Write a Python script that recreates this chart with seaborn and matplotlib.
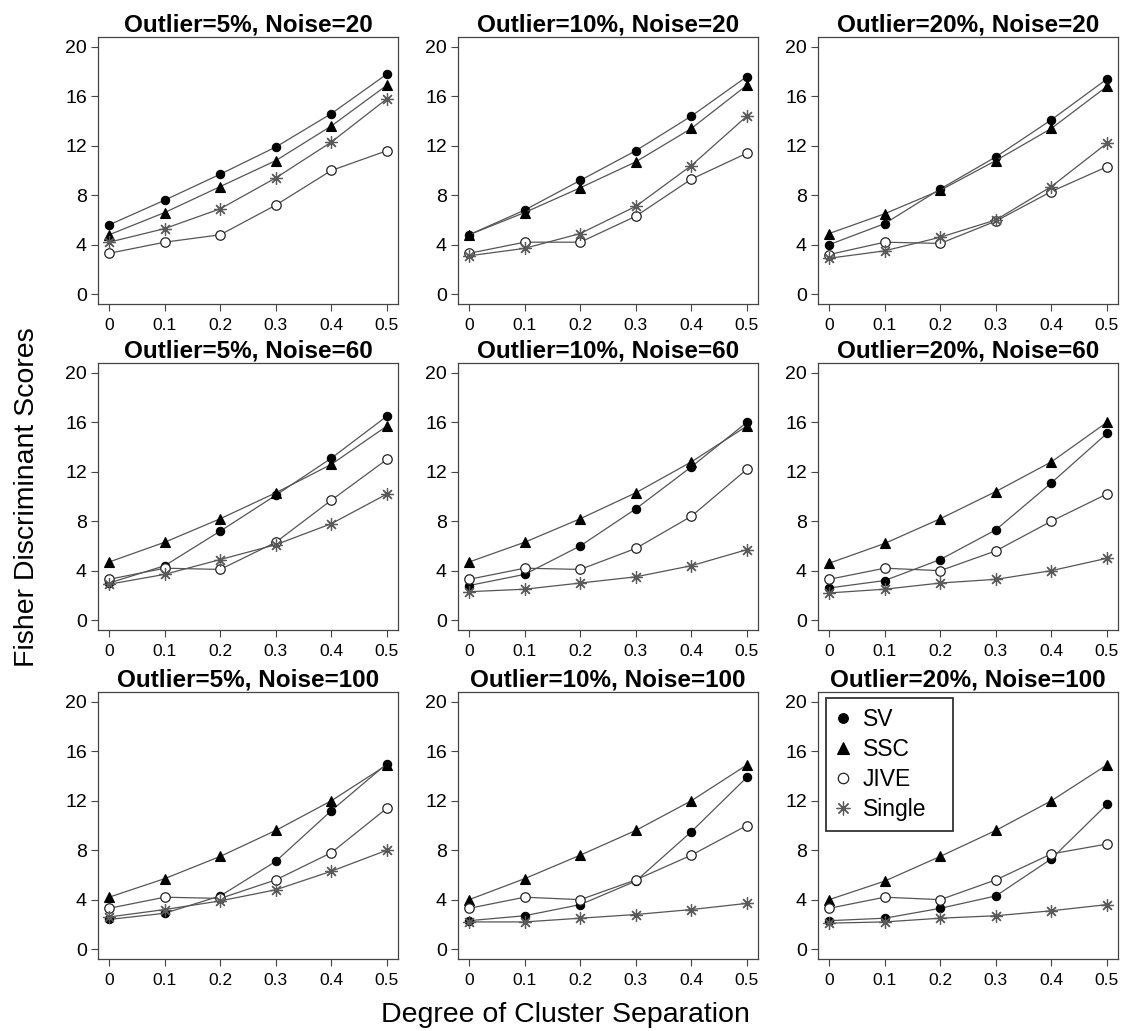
import numpy as np
import pandas as pd
import seaborn as sns
import matplotlib
matplotlib.use("Agg")
import matplotlib.pyplot as plt
from matplotlib.lines import Line2D

separation = [0, 0.1, 0.2, 0.3, 0.4, 0.5]
x_tick_labels = ["0", "0.1", "0.2", "0.3", "0.4", "0.5"]
y_ticks = [0, 4, 8, 12, 16, 20]
outlier_levels = ["5%", "10%", "20%"]
noise_levels = [20, 60, 100]
methods = ["SV", "SSC", "JIVE", "Single"]

# values per noise level: rows = outlier 5%, 10%, 20%
SV_N20 = [[5.6, 7.6, 9.7, 11.9, 14.6, 17.8],
          [4.8, 6.8, 9.2, 11.6, 14.4, 17.6],
          [4.0, 5.7, 8.5, 11.1, 14.1, 17.4]]
SSC_N20 = [[4.8, 6.6, 8.7, 10.8, 13.6, 16.9],
           [4.8, 6.6, 8.6, 10.7, 13.4, 16.9],
           [4.9, 6.5, 8.4, 10.8, 13.4, 16.8]]
JIVE_N20 = [[3.3, 4.2, 4.8, 7.2, 10.0, 11.6],
            [3.3, 4.2, 4.2, 6.3, 9.3, 11.4],
            [3.2, 4.2, 4.1, 5.9, 8.3, 10.3]]
SINGLE_N20 = [[4.2, 5.3, 6.9, 9.4, 12.3, 15.8],
              [3.1, 3.7, 4.9, 7.1, 10.4, 14.4],
              [2.9, 3.5, 4.6, 6.0, 8.7, 12.2]]

SV_N60 = [[3.0, 4.4, 7.2, 10.1, 13.1, 16.5],
          [2.8, 3.7, 6.0, 9.0, 12.4, 16.0],
          [2.6, 3.2, 4.9, 7.3, 11.1, 15.1]]
SSC_N60 = [[4.7, 6.3, 8.2, 10.3, 12.6, 15.7],
           [4.7, 6.3, 8.2, 10.3, 12.8, 15.7],
           [4.6, 6.2, 8.2, 10.4, 12.8, 16.0]]
JIVE_N60 = [[3.3, 4.2, 4.1, 6.3, 9.7, 13.0],
            [3.3, 4.2, 4.1, 5.8, 8.4, 12.2],
            [3.3, 4.2, 4.0, 5.6, 8.0, 10.2]]
SINGLE_N60 = [[2.9, 3.7, 4.9, 6.1, 7.8, 10.2],
              [2.3, 2.5, 3.0, 3.5, 4.4, 5.7],
              [2.2, 2.5, 3.0, 3.3, 4.0, 5.0]]

SV_N100 = [[2.4, 2.9, 4.3, 7.1, 11.2, 15.0],
           [2.3, 2.7, 3.6, 5.5, 9.5, 13.9],
           [2.3, 2.5, 3.3, 4.3, 7.3, 11.7]]
SSC_N100 = [[4.2, 5.7, 7.5, 9.6, 12.0, 14.9],
            [4.0, 5.7, 7.6, 9.6, 12.0, 14.9],
            [4.0, 5.5, 7.5, 9.6, 12.0, 14.9]]
JIVE_N100 = [[3.3, 4.2, 4.1, 5.6, 7.8, 11.4],
             [3.3, 4.2, 4.0, 5.6, 7.6, 10.0],
             [3.3, 4.2, 4.0, 5.6, 7.7, 8.5]]
SINGLE_N100 = [[2.6, 3.2, 3.9, 4.8, 6.3, 8.0],
               [2.2, 2.2, 2.5, 2.8, 3.2, 3.7],
               [2.1, 2.2, 2.5, 2.7, 3.1, 3.6]]

data_by_noise = {
    20: {"SV": SV_N20, "SSC": SSC_N20, "JIVE": JIVE_N20, "Single": SINGLE_N20},
    60: {"SV": SV_N60, "SSC": SSC_N60, "JIVE": JIVE_N60, "Single": SINGLE_N60},
    100: {"SV": SV_N100, "SSC": SSC_N100, "JIVE": JIVE_N100, "Single": SINGLE_N100},
}

rows = []
for noise in noise_levels:
    for oi, outl in enumerate(outlier_levels):
        for m in methods:
            for x, v in zip(separation, data_by_noise[noise][m][oi]):
                rows.append({"noise": noise, "outlier": outl, "method": m,
                             "sep": x, "score": v})
df = pd.DataFrame(rows)

sns.set_theme(style="white")
plt.rcParams["font.family"] = ["Liberation Sans", "DejaVu Sans"]
plt.rcParams["text.color"] = "black"
plt.rcParams["axes.labelcolor"] = "black"
plt.rcParams["xtick.color"] = "black"
plt.rcParams["ytick.color"] = "black"

LINE_COL = "#555555"
AX_COL = "#444444"
styles = {
    "SV": dict(marker="o", ms=6.0, mfc="black", mec="black", mew=0.8),
    "SSC": dict(marker="^", ms=7.0, mfc="black", mec="black", mew=0.8),
    "JIVE": dict(marker="o", ms=6.8, mfc="white", mec="#222222", mew=0.9),
    "Single": dict(marker=(8, 2, 0), ms=9.0, mfc="none", mec="#5a5a5a", mew=0.9),
}

fig = plt.figure(figsize=(11.22, 10.31), dpi=100)
W, H = 1122, 1031
col_left = [98, 458, 818]
row_top = [37, 363, 692]
ax_w, ax_h = 300, 267

axes = {}
for r, noise in enumerate(noise_levels):
    for c, outl in enumerate(outlier_levels):
        left = col_left[c] / W
        bottom = 1 - (row_top[r] + ax_h) / H
        ax = fig.add_axes([left, bottom, ax_w / W, ax_h / H])
        axes[(r, c)] = ax
        sub = df[(df.noise == noise) & (df.outlier == outl)]
        for m in methods:
            d = sub[sub.method == m]
            sns.lineplot(data=d, x="sep", y="score", ax=ax, color=LINE_COL,
                         lw=0.9, legend=False, **styles[m])
        ax.set_xlim(-0.02, 0.52)
        ax.set_ylim(-0.8, 20.8)
        ax.set_xticks(separation)
        ax.set_xticklabels(x_tick_labels, fontsize=12.5)
        ax.set_yticks(y_ticks)
        ax.set_yticklabels([str(t) for t in y_ticks], fontsize=14)
        ax.set_xlabel("")
        ax.set_ylabel("")
        ax.tick_params(axis="both", direction="out", length=5, width=0.8,
                       color=AX_COL, labelcolor="black", left=True, bottom=True)
        ax.tick_params(axis="x", pad=5)
        ax.tick_params(axis="y", pad=3)
        for sp in ax.spines.values():
            sp.set_color(AX_COL)
            sp.set_linewidth(0.9)
        ax.set_title(f"Outlier={outl}, Noise={noise}", fontsize=17.5,
                     fontweight="bold", pad=4, color="black")

# legend in bottom-right panel
leg_styles = {k: dict(v) for k, v in styles.items()}
leg_styles["SV"]["ms"] = 7.0
leg_styles["SSC"]["ms"] = 8.0
leg_styles["JIVE"]["ms"] = 7.5
leg_styles["Single"]["ms"] = 10.0
handles = [Line2D([], [], linestyle="none", **leg_styles[m]) for m in methods]
leg = axes[(2, 2)].legend(handles, methods, loc="upper left",
                          bbox_to_anchor=(0.027, 0.3, 0.423, 0.677),
                          mode="expand", borderaxespad=0,
                          fontsize=16.5, frameon=True, fancybox=False,
                          edgecolor="black", handlelength=0.6,
                          handletextpad=0.55, labelspacing=0.3,
                          borderpad=0.45)
leg.get_frame().set_linewidth(1.3)
for t in leg.get_texts():
    t.set_color("black")

fig.text(565 / W, 1 - 1022 / H, "Degree of Cluster Separation", ha="center",
         va="baseline", fontsize=20.5, color="black")
fig.text(27 / W, 1 - 497 / H, "Fisher Discriminant Scores", ha="center",
         va="center", rotation=90, fontsize=20.5, color="black")

fig.savefig("out.png", dpi=100)
